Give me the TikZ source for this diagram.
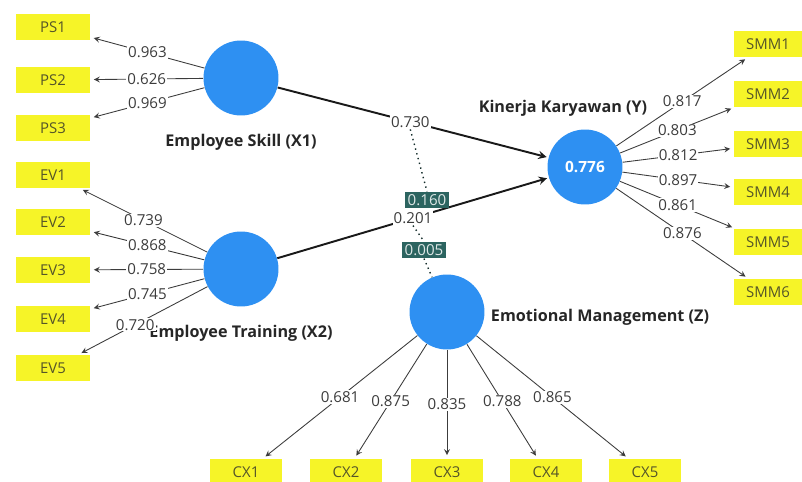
\documentclass[tikz,border=0pt]{standalone}
\usepackage{fontspec}
\setmainfont{Open Sans}
\usepackage{xcolor}
\definecolor{lvblue}{RGB}{46,144,242}
\definecolor{indyellow}{RGB}{246,244,40}
\definecolor{indtext}{RGB}{85,85,40}
\definecolor{modteal}{RGB}{44,100,96}
\definecolor{loadgray}{RGB}{60,60,60}

\begin{document}
\begin{tikzpicture}[>=stealth, x=0.02cm, y=-0.02cm,
    lv/.style={circle, fill=lvblue, minimum size=1.5cm, inner sep=0pt},
    ind/.style={fill=indyellow, minimum width=1.48cm, minimum height=0.52cm, inner sep=0pt, text=indtext, font=\fontsize{8.5}{10}\selectfont},
    lvname/.style={font=\fontsize{9.2}{11}\selectfont\bfseries, text=black!85},
    load/.style={->, draw=loadgray, line width=0.5pt, shorten >=2pt},
    struct/.style={->, draw=black!90, line width=1.1pt, shorten >=1pt},
    coef/.style={fill=white, inner sep=0.6pt, text=loadgray, font=\fontsize{8.6}{10}\selectfont},
    modbox/.style={fill=modteal, inner sep=1.5pt, text=white!85!modteal, font=\fontsize{8.6}{10}\selectfont},
    moddot/.style={dotted, draw=black!55!modteal, line width=0.8pt}]
    \useasboundingbox (0,0) rectangle (802,482);

    % indicators
    \node[ind] (ps1) at (53,27) {PS1};
    \node[ind] (ps2) at (53,80) {PS2};
    \node[ind] (ps3) at (53,128) {PS3};
    \node[ind] (ev1) at (53,175) {EV1};
    \node[ind] (ev2) at (53,222) {EV2};
    \node[ind] (ev3) at (53,270) {EV3};
    \node[ind] (ev4) at (53,319) {EV4};
    \node[ind] (ev5) at (53,368) {EV5};
    \node[ind, minimum width=1.36cm] (smm1) at (768,44) {SMM1};
    \node[ind, minimum width=1.36cm] (smm2) at (768,94) {SMM2};
    \node[ind, minimum width=1.36cm] (smm3) at (768,144) {SMM3};
    \node[ind, minimum width=1.36cm] (smm4) at (768,192) {SMM4};
    \node[ind, minimum width=1.36cm] (smm5) at (768,242) {SMM5};
    \node[ind, minimum width=1.36cm] (smm6) at (768,292) {SMM6};
    \node[ind, minimum width=1.44cm] (cx1) at (246,472) {CX1};
    \node[ind, minimum width=1.44cm] (cx2) at (346,472) {CX2};
    \node[ind, minimum width=1.44cm] (cx3) at (447,472) {CX3};
    \node[ind, minimum width=1.44cm] (cx4) at (546,472) {CX4};
    \node[ind, minimum width=1.44cm] (cx5) at (645,472) {CX5};

    % latent variables
    \node[lv] (es) at (241,78) {};
    \node[lv] (et) at (241,269) {};
    \node[lv, text=white, font=\fontsize{8.8}{10}\selectfont\bfseries] (ky) at (585,167) {0.776};
    \node[lv] (em) at (447,312) {};
    \node[lvname] (esname) at (241,142) {Employee Skill (X1)};
    \node[lvname] (etname) at (241,333) {Employee Training (X2)};
    \node[lvname] (kyname) at (563,108) {Kinerja Karyawan (Y)};
    \node[lvname] (emname) at (600,317) {Emotional Management (Z)};

    % outer loadings
    \draw[load] (es) -- (ps1) node[coef, pos=0.5] {0.963};
    \draw[load] (es) -- (ps2) node[coef, pos=0.5] {0.626};
    \draw[load] (es) -- (ps3) node[coef, pos=0.5] {0.969};
    \draw[load] (et) -- (ev1) node[coef, pos=0.5] {0.739};
    \draw[load] (et) -- (ev2) node[coef, pos=0.5] {0.868};
    \draw[load] (et) -- (ev3) node[coef, pos=0.5] {0.758};
    \draw[load] (et) -- (ev4) node[coef, pos=0.5] {0.745};
    \draw[load] (et) -- (ev5) node[coef, pos=0.56] {0.720};
    \draw[load] (ky) -- (smm1) node[coef, pos=0.5] {0.817};
    \draw[load] (ky) -- (smm2) node[coef, pos=0.5] {0.803};
    \draw[load] (ky) -- (smm3) node[coef, pos=0.5] {0.812};
    \draw[load] (ky) -- (smm4) node[coef, pos=0.5] {0.897};
    \draw[load] (ky) -- (smm5) node[coef, pos=0.5] {0.861};
    \draw[load] (ky) -- (smm6) node[coef, pos=0.5] {0.876};
    \draw[load] (em) -- (cx1) node[coef, pos=0.5] {0.681};
    \draw[load] (em) -- (cx2) node[coef, pos=0.5] {0.875};
    \draw[load] (em) -- (cx3) node[coef, pos=0.5] {0.835};
    \draw[load] (em) -- (cx4) node[coef, pos=0.5] {0.788};
    \draw[load] (em) -- (cx5) node[coef, pos=0.5] {0.865};

    % path coefficients
    \draw[struct] (es) -- (ky) node[coef, pos=0.49] (c730) {0.730};
    \draw[struct] (et) -- (ky) node[coef, pos=0.5] (c201) {0.201};

    % moderating effects
    \node[modbox] (mod1) at (427,200) {0.160};
    \node[modbox] (mod2) at (424,250) {0.005};
    \draw[moddot] (c730.south) -- (mod1.north);
    \draw[moddot] (c201.south) -- (mod2.north);
    \draw[moddot] (mod2.south) -- (em);
\end{tikzpicture}
\end{document}
